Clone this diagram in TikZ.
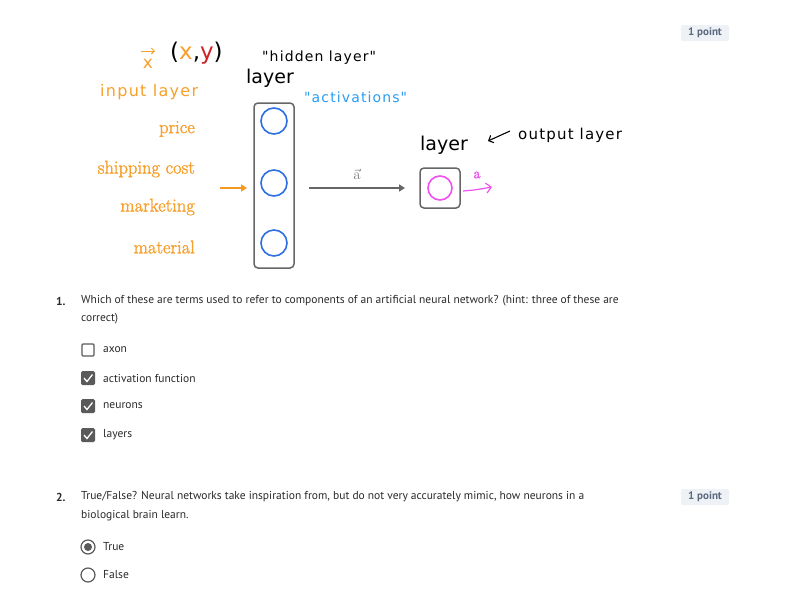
\documentclass[tikz,border=0pt]{standalone}
\usepackage{fontspec}
\setmainfont{Latin Modern Roman}
\newfontfamily\featfont[FakeBold=1.6]{Latin Modern Roman}
\newfontfamily\uifont{PT Sans}
\newfontfamily\handfont[LetterSpace=8]{DejaVu Sans}
\newfontfamily\layerfont{DejaVu Sans}
\usetikzlibrary{arrows.meta}
\definecolor{orng}{HTML}{F7A02C}
\definecolor{orngarrow}{HTML}{F39A1E}
\definecolor{cblue}{HTML}{2F6FE4}
\definecolor{actblue}{HTML}{2A9DF4}
\definecolor{mag}{HTML}{F050F0}
\definecolor{ry}{HTML}{D0202A}
\definecolor{boxgray}{HTML}{666666}
\definecolor{badgebg}{HTML}{EEF1F6}
\definecolor{badgetx}{HTML}{5B6A7E}
\definecolor{qtext}{HTML}{2A2A2A}
\definecolor{chk}{HTML}{5A5A5A}
\tikzset{
  feat/.style={anchor=east, text=orng, font=\featfont\fontsize{18.5}{18.5}\selectfont, inner sep=0pt},
  neuron/.style={circle, draw=cblue, line width=1.6pt, minimum size=26pt, inner sep=0pt},
  layerbox/.style={draw=boxgray, line width=1.5pt, rounded corners=4pt},
  bigsans/.style={font=\layerfont\fontsize{19}{19}\selectfont, inner sep=0pt},
  hand/.style={font=\handfont\fontsize{13}{13}\selectfont, inner sep=0pt},
  qtxt/.style={anchor=west, font=\uifont\fontsize{11.5}{13}\selectfont, text=qtext, inner sep=0pt},
  qnum/.style={anchor=west, font=\uifont\bfseries\fontsize{11.5}{13}\selectfont, text=qtext, inner sep=0pt},
  badge/.style={fill=badgebg, rounded corners=2pt, minimum width=48pt, minimum height=16pt, inner sep=0pt, text=badgetx, font=\uifont\bfseries\fontsize{11}{11}\selectfont},
  cbox/.style={draw=chk, line width=1.2pt, rounded corners=1pt, minimum size=12pt, inner sep=0pt},
  cboxon/.style={fill=chk, rounded corners=1.5pt, minimum size=14pt, inner sep=0pt},
  radio/.style={circle, draw=chk, line width=1.2pt, minimum size=14pt, inner sep=0pt},
}
\begin{document}
\begin{tikzpicture}[x=1pt,y=-1pt]
\useasboundingbox[fill=white] (0,0) rectangle (785,598);

% badges
\node[badge] (b1) at (705,33) {1 point};
\node[badge] (b2) at (705,497) {1 point};

% handwritten annotations
\node[hand, text=orng, font=\handfont\fontsize{17}{17}\selectfont] (xv) at (148,64) {x};
\draw[orng, line width=1pt, -{Straight Barb[length=3pt]}] (141,51) -- (155,51);
\node[font=\handfont\fontsize{23}{23}\selectfont, inner sep=0pt, anchor=west] (xy) at (170,53)
  {(\textcolor{orng}{x},\textcolor{ry}{y})};
\node[hand, anchor=west, font=\handfont\fontsize{14}{14}\selectfont] (hid) at (262,58) {"hidden layer"};
\node[hand, text=orng, anchor=west, font=\handfont\fontsize{16}{16}\selectfont] (inl) at (100,92) {input layer};
\node[hand, text=actblue, anchor=west, font=\handfont\fontsize{14}{14}\selectfont] (act) at (304,97) {"activations"};
\node[hand, anchor=west, font=\handfont\fontsize{15}{15}\selectfont] (outl) at (518,135) {output layer};
\draw[line width=1.1pt, -{Straight Barb[length=4pt]}] (510,131) -- (488,141);

% layer titles
\node[bigsans] (l1) at (270,78) {layer};
\node[bigsans] (l2) at (444,145) {layer};

% features
\node[feat] (f1) at (195,129) {price};
\node[feat] (f2) at (195,169) {shipping cost};
\node[feat] (f3) at (195,207) {marketing};
\node[feat] (f4) at (195,247) {material};

% hidden layer
\draw[layerbox] (254,103) rectangle (294,268);
\node[neuron] (n1) at (274,121) {};
\node[neuron] (n2) at (274,183) {};
\node[neuron] (n3) at (274,243) {};
\coordinate (inA) at (220,188);
\coordinate (inB) at (247,188);
\draw[orngarrow, line width=2pt, -{Triangle[length=6pt,width=7pt]}] (inA) -- (inB);

% vector a arrow
\coordinate (aA) at (309,188);
\coordinate (aB) at (405,188);
\draw[boxgray, line width=2pt, -{Triangle[length=6pt,width=7pt]}] (aA) -- (aB) node[midway, above=4pt, text=boxgray, font=\featfont\fontsize{15}{15}\selectfont] {$\vec{\mathrm{a}}$};

% output layer
\draw[layerbox] (420,168) rectangle (460,208);
\node[neuron, draw=mag, minimum size=24pt] (o1) at (440,188) {};
\coordinate (oA) at (463,191);
\coordinate (oB) at (492,187);
\draw[mag, line width=1.2pt, -{Straight Barb[length=5pt]}] (oA) .. controls (475,190) .. (oB);
\node[text=mag, font=\featfont\fontsize{15}{15}\selectfont, inner sep=0pt] (oa) at (477,175) {a};

% question 1
\node[qnum] (q1n) at (56,301) {1.};
\node[qtxt] (q1a) at (81,301) {Which of these are terms used to refer to components of an artificial neural network? (hint: three of these are};
\node[qtxt] (q1b) at (81,319) {correct)};
\node[cbox] (c1) at (88,350) {};
\node[qtxt] (t1) at (103,350) {axon};
\node[cboxon] (c2) at (88,378) {};
\draw[white, line width=1.3pt] (84,378) -- (87,381.5) -- (92.5,374.5);
\node[qtxt] (t2) at (103,378) {activation function};
\node[cboxon] (c3) at (88,406) {};
\draw[white, line width=1.3pt] (84,406) -- (87,409.5) -- (92.5,402.5);
\node[qtxt] (t3) at (103,406) {neurons};
\node[cboxon] (c4) at (88,435) {};
\draw[white, line width=1.3pt] (84,435) -- (87,438.5) -- (92.5,431.5);
\node[qtxt] (t4) at (103,435) {layers};

% question 2
\node[qnum] (q2n) at (56,497) {2.};
\node[qtxt] (q2a) at (81,497) {True/False? Neural networks take inspiration from, but do not very accurately mimic, how neurons in a};
\node[qtxt] (q2b) at (81,516) {biological brain learn.};
\node[radio] (r1) at (88,547) {};
\fill[chk] (r1.center) circle (4pt);
\node[qtxt] (rt1) at (103,547) {True};
\node[radio] (r2) at (88,575) {};
\node[qtxt] (rt2) at (103,575) {False};
\end{tikzpicture}
\end{document}
